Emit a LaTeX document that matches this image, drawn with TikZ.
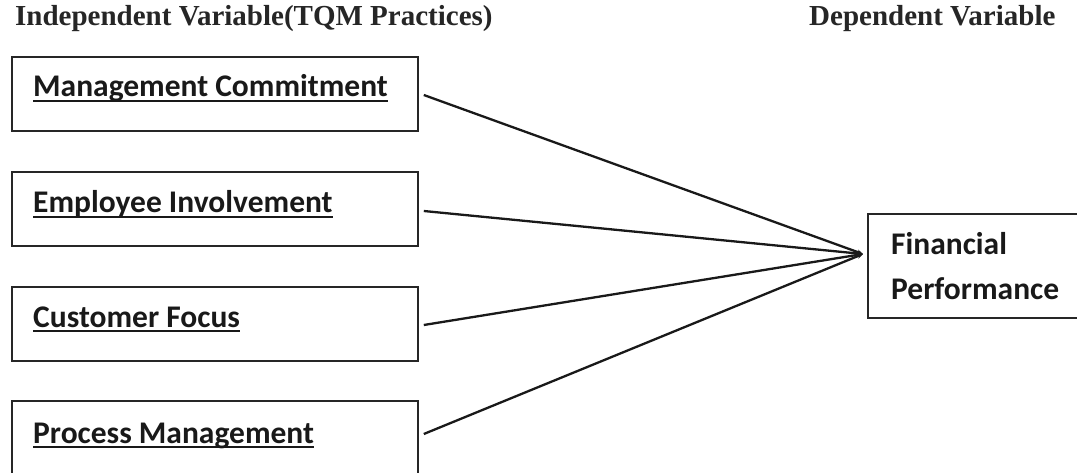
\documentclass[tikz,border=0pt]{standalone}
\usepackage{fontspec}
\setmainfont{Liberation Serif}
\newfontfamily\calfont{Carlito}
\usetikzlibrary{arrows.meta}
\newcommand\myul[1]{\setbox0\hbox{#1}\rlap{\rule[-5pt]{\wd0}{2.4pt}}\box0}
\tikzset{
  vbox/.style={draw=black!85, line width=1.6pt, rectangle, minimum width=406pt, minimum height=74pt, inner sep=0pt},
  fbox/.style={draw=black!85, line width=1.6pt, rectangle, minimum width=240pt, minimum height=104pt, inner sep=0pt},
  lbl/.style={anchor=base west, inner sep=0pt, font=\calfont\bfseries\fontsize{31.5}{36}\selectfont, text=black!90},
  hdr/.style={anchor=base west, inner sep=0pt, font=\bfseries\fontsize{29}{33}\selectfont, text=black!85},
  conn/.style={line width=2.3pt, black!90, -{Stealth[length=6pt,width=5pt]}}
}
\begin{document}
\begin{tikzpicture}[x=1pt,y=-1pt]
\useasboundingbox (0,0) rectangle (1077,473);
\clip (0,0) rectangle (1077,473);
\node[hdr] (h1) at (15,26) {Independent Variable(TQM Practices)};
\node[hdr] (h2) at (809,26) {Dependent Variable};
\node[vbox] (b1) at (215,94) {};
\node[vbox] (b2) at (215,209) {};
\node[vbox] (b3) at (215,324) {};
\node[vbox] (b4) at (215,438) {};
\node[lbl] (t1) at (33,97) {\myul{Management Commitment}};
\node[lbl] (t2) at (33,213) {\myul{Employee Involvement}};
\node[lbl] (t3) at (33,327) {\myul{Customer Focus}};
\node[lbl] (t4) at (33,443) {\myul{Process Management}};
\node[fbox] (fp) at (988,266) {};
\node[lbl] (t5) at (891,255) {Financial};
\node[lbl] (t6) at (891,300) {Performance};
\coordinate (hub) at (863,254);
\draw[conn] ([xshift=5pt,yshift=-1pt]b1.east) -- (hub);
\draw[conn] ([xshift=5pt,yshift=-2pt]b2.east) -- (hub);
\draw[conn] ([xshift=5pt,yshift=-1pt]b3.east) -- (hub);
\draw[conn] ([xshift=5pt,yshift=4pt]b4.east) -- (hub);
\end{tikzpicture}
\end{document}
